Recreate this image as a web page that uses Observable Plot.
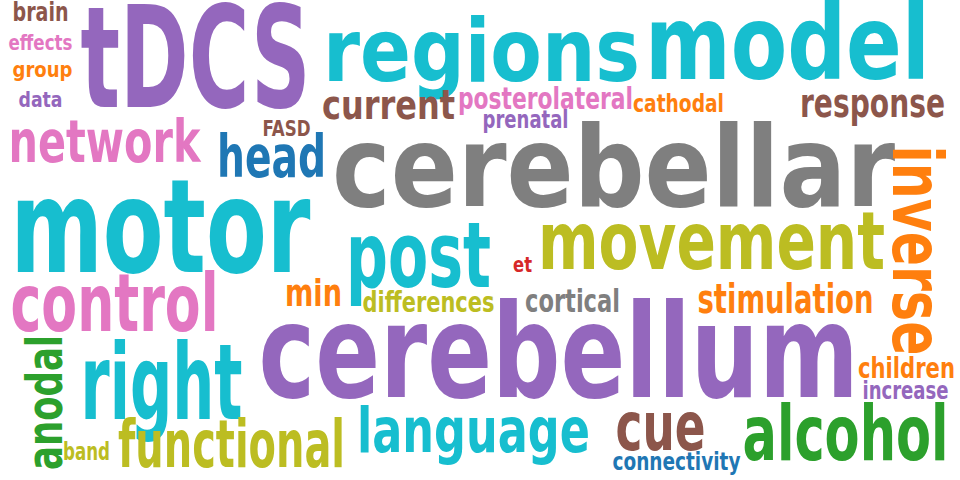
<!DOCTYPE html>
<html><head><meta charset="utf-8">
<script src="https://cdn.jsdelivr.net/npm/d3@7"></script>
<script src="https://cdn.jsdelivr.net/npm/@observablehq/plot@0.6"></script>
<style>body{margin:0;background:#fff}</style>
</head><body><div id="chart"></div>
<script>
const words  = ["brain","effects","group","data","tDCS","regions","model","network","FASD","current","posterolateral","prenatal","cathodal","response","head","cerebellar","inverse","motor","post","movement","et","min","differences","cortical","stimulation","control","cerebellum","anodal","right","children","increase","language","cue","alcohol","functional","band","connectivity"];
const xs     = [40,40,42,40,195,481,787,104,286,388,545,525,678,872,271,613,915,160,418,711,522,313,428,572,785,114,558,45,161,906,905,473,660,845,231,86,676];
const ys     = [12,42,69,99,62,52,45,143,128,106,99,120,104,104,158,170,250,230,258,243,264,293,303,301,300,305,355,402,385,369,391,432,428,435,445,452,462];
const sizes  = [26,22,22,22,140,88,104,58,22,40,30,24,24,40,58,112,70,130,90,80,22,38,28,32,40,80,130,50,105,28,24,62,68,76,66,24,24];
const widths = [56,64,60,44,230,317,285,192,48,133,175,86,91,145,109,563,210,300,145,347,19,57,132,95,176,208,600,135,162,97,86,233,90,206,227,47,128];
const rots   = [0,0,0,0,0,0,0,0,0,0,0,0,0,0,0,0,90,0,0,0,0,0,0,0,0,0,0,-90,0,0,0,0,0,0,0,0,0];
const colors = ["#8c564b","#e377c2","#ff7f0e","#9467bd","#9467bd","#17becf","#17becf","#e377c2","#8c564b","#8c564b","#e377c2","#9467bd","#ff7f0e","#8c564b","#1f77b4","#7f7f7f","#ff7f0e","#17becf","#17becf","#bcbd22","#d62728","#ff7f0e","#bcbd22","#7f7f7f","#ff7f0e","#e377c2","#9467bd","#2ca02c","#17becf","#ff7f0e","#9467bd","#17becf","#8c564b","#2ca02c","#bcbd22","#bcbd22","#1f77b4"];
const data = words.map((w,i)=>({w,x:xs[i],y:ys[i],s:sizes[i],r:rots[i],c:colors[i],wd:widths[i]}));
const chart = Plot.plot({
  width:960,height:480,margin:0,
  x:{domain:[0,960],axis:null},y:{domain:[480,0],axis:null},
  marks:[Plot.text(data,{x:"x",y:"y",text:"w",fontSize:"s",rotate:"r",fill:"c",
    textAnchor:"middle",lineAnchor:"middle",fontWeight:"bold",
    fontFamily:"'DejaVu Sans Condensed','DejaVu Sans',sans-serif"})]
});
document.getElementById("chart").append(chart);
d3.select(chart).selectAll("text").each(function(i){
  const d = data[typeof i==="number"?i:0];
  if (d) { this.setAttribute("textLength", d.wd); this.setAttribute("lengthAdjust","spacingAndGlyphs"); }
});
</script></body></html>
